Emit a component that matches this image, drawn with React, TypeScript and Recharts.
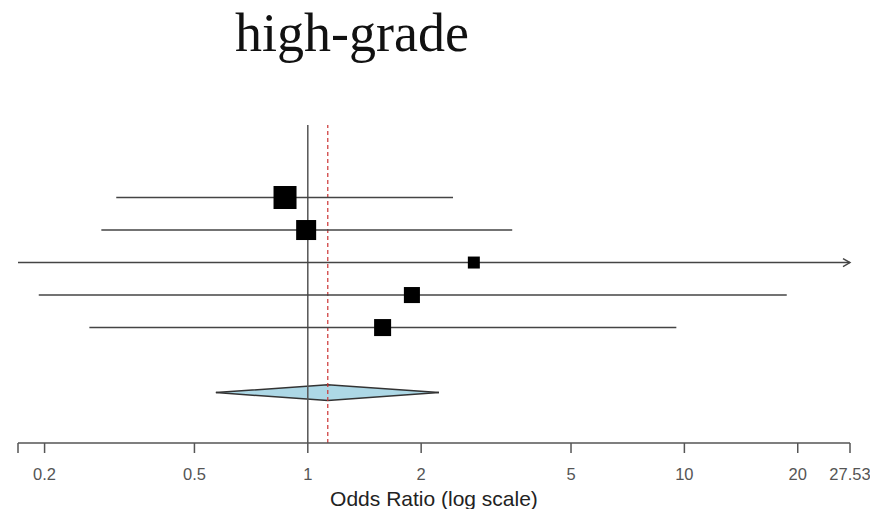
import React from "react";
import { ComposedChart, XAxis, YAxis, Scatter, Area, ReferenceLine } from "recharts";

// study rows (top to bottom)
const studyRows = [1, 2, 3, 4, 5];
const oddsRatios = [0.87, 0.99, 2.76, 1.89, 1.58];
const ciLower = [0.31, 0.283, 0.17, 0.193, 0.263];
const ciUpper = [2.43, 3.49, 45, 18.7, 9.52];
const weights = [26.1, 22.7, 13.6, 18.2, 19.3];

// pooled estimate
const summaryRow = 7;
const summaryOR = 1.13;
const summaryLower = 0.57;
const summaryUpper = 2.23;

const axisTicks = [0.17, 0.2, 0.5, 1, 2, 5, 10, 20, 27.53];
const tickLabels = ["", "0.2", "0.5", "1", "2", "5", "10", "20", "27.53"];

const xMin = axisTicks[0];
const xMax = axisTicks[axisTicks.length - 1];
const maxW = Math.max(...weights);

const studies = studyRows.map((y, i) => ({ x: oddsRatios[i], y, w: weights[i] }));
const diamond = [
  { x: summaryLower, band: [summaryRow, summaryRow] },
  { x: summaryOR, band: [summaryRow - 0.24, summaryRow + 0.24] },
  { x: summaryUpper, band: [summaryRow, summaryRow] },
];

const Square = (props: any) => {
  const { cx, cy, payload } = props;
  const s = (23 * payload.w) / maxW;
  return <rect x={cx - s / 2} y={cy - s / 2} width={s} height={s} fill="#000" />;
};

const CiLine = (arrow: boolean) => (p: any) => (
  <g>
    <line x1={p.x1} y1={p.y1} x2={p.x2} y2={p.y2} stroke="#444" strokeWidth={1.4} />
    {arrow && (
      <path
        d={`M${p.x2 - 7},${p.y2 - 4} L${p.x2},${p.y2} L${p.x2 - 7},${p.y2 + 4}`}
        fill="none"
        stroke="#444"
        strokeWidth={1.4}
      />
    )}
  </g>
);

export default function App() {
  return (
    <div style={{ position: "absolute", left: 0, top: 0, background: "#fff" }}>
      <ComposedChart width={870} height={509} margin={{ top: 125, right: 20, left: 18, bottom: 0 }}>
        <text
          x={352}
          y={51}
          textAnchor="middle"
          fontFamily="'Liberation Serif', 'Times New Roman', serif"
          fontSize={54}
          fill="#111"
        >
          high-grade
        </text>
        <XAxis
          dataKey="x"
          type="number"
          scale="log"
          domain={[xMin, xMax]}
          allowDataOverflow
          ticks={axisTicks}
          tickFormatter={(v: number) => tickLabels[axisTicks.indexOf(v)] ?? String(v)}
          height={66}
          tickSize={10}
          tickMargin={15}
          axisLine={{ stroke: "#555", strokeWidth: 1.5 }}
          tickLine={{ stroke: "#555", strokeWidth: 1.5 }}
          tick={{ fontSize: 16.5, fill: "#555", fontFamily: "'Liberation Sans', Arial, sans-serif" }}
          label={{
            value: "Odds Ratio (log scale)",
            position: "insideBottom",
            offset: 3,
            fontSize: 21,
            fill: "#222",
            fontFamily: "'Liberation Sans', Arial, sans-serif",
          }}
        />
        <YAxis dataKey="y" type="number" domain={[-1.23, 8.55]} reversed hide />
        <ReferenceLine x={1} stroke="#555" strokeWidth={1.5} />
        <ReferenceLine x={summaryOR} stroke="#cc3333" strokeWidth={1.2} strokeDasharray="4 3" />
        {studyRows.map((y, i) => (
          <ReferenceLine
            key={y}
            ifOverflow="visible"
            segment={[
              { x: Math.max(ciLower[i], xMin), y },
              { x: Math.min(ciUpper[i], xMax), y },
            ]}
            shape={CiLine(ciUpper[i] > xMax)}
          />
        ))}
        <Area
          data={diamond}
          dataKey="band"
          type="linear"
          fill="#add8e6"
          fillOpacity={1}
          stroke="#333"
          strokeWidth={1.5}
          isAnimationActive={false}
          dot={false}
          activeDot={false}
        />
        <Scatter data={studies} shape={<Square />} isAnimationActive={false} />
      </ComposedChart>
    </div>
  );
}
